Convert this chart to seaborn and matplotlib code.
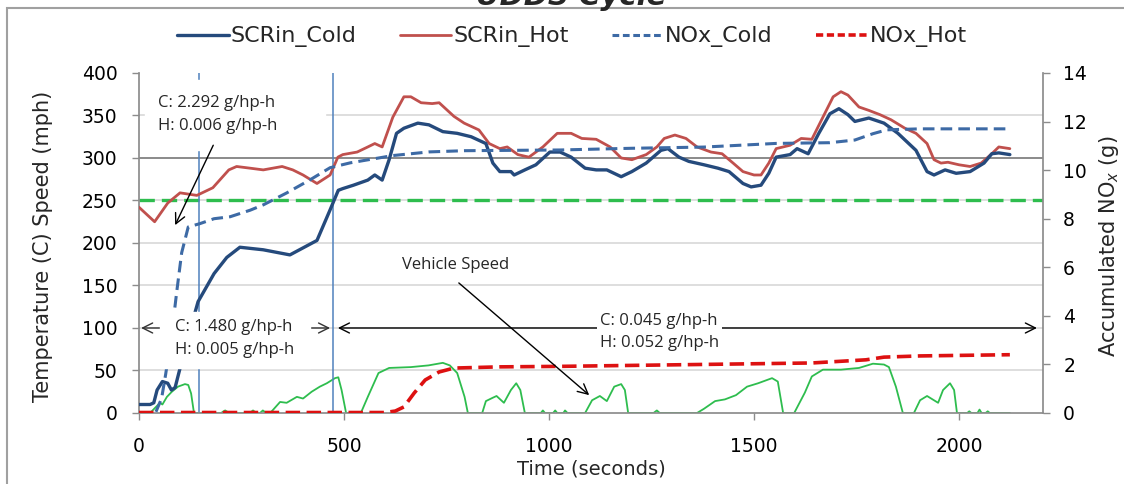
import seaborn as sns
import matplotlib.pyplot as plt
from matplotlib.lines import Line2D
from matplotlib.patches import Rectangle

# SCR inlet temperature (C), cold start
cold_t = [0, 27, 36, 44, 57, 70, 79, 88, 97, 120,
          144, 183, 214, 246, 303, 368, 434, 466, 486, 497,
          523, 558, 575, 593, 610, 628, 646, 680, 707, 741,
          776, 810, 846, 863, 880, 907, 915, 941, 968, 1002,
          1027, 1054, 1088, 1115, 1141, 1176, 1202, 1237, 1273, 1290,
          1317, 1341, 1378, 1412, 1439, 1473, 1493, 1517, 1536, 1554,
          1588, 1605, 1632, 1658, 1685, 1707, 1729, 1746, 1780, 1817,
          1851, 1895, 1922, 1939, 1966, 1993, 2027, 2061, 2080, 2097,
          2124]
cold_v = [10, 10, 12, 27, 37, 35, 27, 30, 47, 90,
          131, 164, 183, 195, 192, 186, 203, 239, 262, 264,
          268, 274, 280, 274, 298, 329, 335, 341, 339, 331,
          329, 325, 317, 294, 284, 284, 280, 286, 292, 307,
          307, 301, 288, 286, 286, 278, 284, 294, 309, 311,
          301, 296, 292, 288, 284, 270, 266, 268, 282, 301,
          304, 311, 305, 329, 352, 358, 351, 343, 347, 341,
          329, 309, 284, 280, 286, 282, 284, 294, 305, 306,
          304]

# SCR inlet temperature (C), hot start
hot_t = [0, 38, 70, 100, 141, 180, 219, 238, 271, 303,
         349, 375, 400, 434, 466, 485, 497, 532, 558, 575,
         593, 619, 646, 663, 688, 715, 732, 768, 793, 829,
         854, 880, 898, 924, 951, 985, 1020, 1054, 1080, 1115,
         1149, 1176, 1202, 1237, 1263, 1281, 1307, 1334, 1361, 1395,
         1422, 1449, 1473, 1500, 1517, 1536, 1554, 1588, 1615, 1641,
         1668, 1693, 1712, 1729, 1756, 1780, 1807, 1834, 1868, 1895,
         1922, 1939, 1956, 1973, 2000, 2027, 2054, 2080, 2097, 2124]
hot_v = [242, 225, 247, 259, 256, 265, 286, 290, 288, 286,
         290, 286, 280, 270, 280, 301, 304, 307, 313, 317,
         313, 348, 372, 372, 365, 364, 365, 349, 341, 333,
         317, 311, 313, 304, 301, 313, 329, 329, 323, 322,
         313, 300, 298, 304, 313, 323, 327, 323, 313, 307,
         305, 294, 284, 280, 280, 294, 311, 315, 323, 322,
         348, 372, 378, 374, 360, 356, 351, 345, 335, 329,
         317, 298, 294, 295, 292, 290, 294, 305, 313, 311]

# accumulated NOx (g)
nox_cold_t = [0, 40, 55, 65, 80, 92, 104, 120, 149, 183,
              222, 271, 303, 360, 417, 466, 515, 619, 707, 793,
              1027, 1202, 1378, 1554, 1685, 1746, 1790, 1824, 1905, 2124]
nox_cold_g = [0, 0, 0.6, 1.6, 3.3, 5.0, 6.6, 7.66, 7.8, 8.0,
              8.08, 8.35, 8.57, 9.06, 9.6, 10.1, 10.3, 10.6, 10.75, 10.8,
              10.83, 10.9, 10.95, 11.1, 11.13, 11.24, 11.5, 11.66, 11.7, 11.7]

nox_hot_t = [0, 600, 625, 646, 671, 698, 732, 768, 880, 1027,
             1378, 1641, 1773, 1817, 1905, 2124]
nox_hot_g = [0.02, 0.02, 0.08, 0.25, 0.82, 1.36, 1.69, 1.85, 1.9, 1.92,
             2.0, 2.06, 2.19, 2.3, 2.35, 2.4]

# vehicle speed (mph)
speed_t = [0, 27, 51, 57, 68, 80, 95, 112, 120, 127, 134,
           200, 210, 220, 270, 278, 286, 295, 302, 310, 320,
           344, 360, 385, 400, 421, 441, 458, 478, 486, 494, 505,
           541, 558, 584, 610, 663, 706, 741, 758, 776, 794, 802,
           837, 846, 863, 872, 890, 907, 920, 930, 941,
           980, 985, 990, 1010, 1015, 1020, 1035, 1039, 1045,
           1088, 1105, 1124, 1141, 1159, 1176, 1185, 1193,
           1255, 1263, 1270, 1361, 1378, 1405, 1429, 1456, 1483, 1510, 1544, 1558, 1571,
           1598, 1624, 1641, 1668, 1712, 1756, 1790, 1817, 1829, 1846, 1863,
           1890, 1905, 1922, 1949, 1961, 1978, 1988, 1995,
           2020, 2025, 2030, 2045, 2050, 2055, 2065, 2070, 2075, 2124]
speed_v = [0, 0, 12, 10, 19, 25, 31, 34, 33, 23, 0,
           0, 3, 0, 0, 3, 0, 0, 3, 0, 0,
           13, 12, 19, 17, 25, 31, 35, 41, 42, 27, 0,
           0, 19, 47, 53, 54, 56, 59, 56, 47, 19, 0,
           0, 14, 18, 20, 12, 27, 35, 27, 0,
           0, 3, 0, 0, 3, 0, 0, 3, 0,
           0, 15, 20, 14, 31, 34, 27, 0,
           0, 3, 0, 0, 5, 14, 16, 21, 31, 35, 41, 37, 0,
           0, 24, 43, 51, 51, 53, 58, 57, 54, 31, 0,
           0, 15, 20, 12, 27, 35, 27, 0,
           0, 2, 0, 0, 4, 0, 0, 2, 0, 0]

phase_bounds = [146, 473]
temp_target = 250

labels = ['SCRin_Cold', 'SCRin_Hot', 'NOx_Cold', 'NOx_Hot']
c_cold, c_hot = '#254a7c', '#c0504d'
c_nox_cold, c_nox_hot = '#3d6aa5', '#dd1111'
c_green = '#2ebd4e'
c_axis = '#8c8c8c'

sns.set_theme(style='white')
plt.rcParams['font.family'] = ['DejaVu Sans']
ann_font = ['Open Sans', 'DejaVu Sans']

fig = plt.figure(figsize=(11.24, 4.84), dpi=100)
ax = fig.add_axes([0.1237, 0.1467, 0.8043, 0.7025])
ax2 = ax.twinx()

# grid
for g in range(50, 400, 50):
    if g == 300:
        ax.axhline(g, color='#8a8a8a', lw=1.4, zorder=0)
    else:
        ax.axhline(g, color='#d4d4d4', lw=1.1, zorder=0)

sns.lineplot(x=speed_t, y=speed_v, ax=ax, color=c_green, lw=1.3, estimator=None, zorder=2)
ax.axhline(temp_target, color=c_green, lw=2.4, linestyle=(0, (4.6, 2.1)), zorder=2)
for b in phase_bounds:
    ax.axvline(b, color='#4f81bd', lw=1.1, zorder=2)
sns.lineplot(x=hot_t, y=hot_v, ax=ax, color=c_hot, lw=2.0, estimator=None, zorder=3)
sns.lineplot(x=cold_t, y=cold_v, ax=ax, color=c_cold, lw=2.4, estimator=None, zorder=3)

sns.lineplot(x=nox_cold_t, y=nox_cold_g, ax=ax2, color=c_nox_cold, lw=2.2,
             linestyle=(0, (3.8, 2.0)), estimator=None, zorder=2)
sns.lineplot(x=nox_hot_t, y=nox_hot_g, ax=ax2, color=c_nox_hot, lw=2.6,
             linestyle=(0, (4.0, 1.8)), estimator=None, zorder=2)

ax.set_xlim(0, 2205)
ax.set_ylim(0, 400)
ax2.set_ylim(0, 14)
ax.set_xticks(range(0, 2001, 500))
ax.set_yticks(range(0, 401, 50))
ax2.set_yticks(range(0, 15, 2))

for s in ['top', 'right']:
    ax.spines[s].set_visible(False)
for s in ['top', 'left', 'bottom']:
    ax2.spines[s].set_visible(False)
for s in ['left', 'bottom']:
    ax.spines[s].set_color(c_axis)
ax2.spines['right'].set_color(c_axis)

ax.tick_params(axis='x', bottom=True, direction='out', length=5, width=1, color=c_axis,
               labelsize=13.5, pad=12.5, labelcolor='black')
ax.tick_params(axis='y', left=True, direction='out', length=5, width=1, color=c_axis,
               labelsize=13.5, pad=10.5, labelcolor='black')
ax2.tick_params(axis='y', right=True, direction='out', length=5, width=1, color=c_axis,
                labelsize=13.5, pad=9.5, labelcolor='black')

ax.set_xlabel('Time (seconds)', fontsize=14)
ax.set_ylabel('Temperature (C) Speed (mph)', fontsize=15)
ax2.set_ylabel('Accumulated NO$_x$ (g)', fontsize=15)
ax.xaxis.set_label_coords(0.5, -0.136)
ax.yaxis.set_label_coords(-0.095, 0.49)
ax2.yaxis.set_label_coords(1.06, 0.49)

# annotations (drawn on the top axes, in temperature/time coordinates)
td = ax.transData
ax2.add_patch(Rectangle((15, 309), 439, 83, transform=td, color='white', zorder=5))
ax2.text(46, 351, 'C: 2.292 g/hp-h\nH: 0.006 g/hp-h', transform=td, ha='left', va='center',
         fontsize=12, linespacing=1.55, family=ann_font, zorder=6)
ax2.annotate('', xy=(88, 221), xytext=(181, 315), xycoords=td, textcoords=td,
             arrowprops=dict(arrowstyle='->,head_length=0.6,head_width=0.3', color='black',
                             lw=1, shrinkA=0, shrinkB=0), zorder=7)

ax2.annotate('', xy=(5, 100), xytext=(466, 100), xycoords=td, textcoords=td,
             arrowprops=dict(arrowstyle='<->,head_length=0.6,head_width=0.3', color='#333333',
                             lw=1, shrinkA=0, shrinkB=0), zorder=4)
ax2.add_patch(Rectangle((51, 53), 366, 66, transform=td, color='white', zorder=5))
ax2.text(232, 88, 'C: 1.480 g/hp-h\nH: 0.005 g/hp-h', transform=td, ha='center', va='center',
         fontsize=12, linespacing=1.6, family=ann_font, zorder=6)

ax2.annotate('', xy=(485, 100), xytext=(2190, 100), xycoords=td, textcoords=td,
             arrowprops=dict(arrowstyle='<->,head_length=0.6,head_width=0.3', color='black',
                             lw=1, shrinkA=0, shrinkB=0), zorder=4)
ax2.text(1124, 95, 'C: 0.045 g/hp-h\nH: 0.052 g/hp-h', transform=td, ha='left', va='center',
         fontsize=12, linespacing=1.5, family=ann_font, zorder=6,
         bbox=dict(facecolor='white', edgecolor='none', pad=2))

ax2.text(771, 174, 'Vehicle Speed', transform=td, ha='center', va='center',
         fontsize=12, family=ann_font, zorder=6)
ax2.annotate('', xy=(1098, 21), xytext=(780, 153), xycoords=td, textcoords=td,
             arrowprops=dict(arrowstyle='->,head_length=0.6,head_width=0.3', color='black',
                             lw=1, shrinkA=0, shrinkB=0), zorder=7)

handles = [Line2D([], [], color=c_cold, lw=2.4),
           Line2D([], [], color=c_hot, lw=2.0),
           Line2D([], [], color=c_nox_cold, lw=2.2, linestyle=(0, (2.2, 1.2))),
           Line2D([], [], color=c_nox_hot, lw=2.6, linestyle=(0, (2.0, 1.0)))]
fig.legend(handles, labels, loc='center', bbox_to_anchor=(0.509, 0.9236), ncol=4,
           frameon=False, fontsize=16, handlelength=2.3, handletextpad=0.1, columnspacing=1.95)

fig.text(0.508, 1 - 5 / 484, 'UDDS Cycle', ha='center', va='baseline',
         fontsize=21, fontweight='bold', fontstyle='italic')
fig.add_artist(Rectangle((7 / 1124, -0.05), 1.1, 1.05 - 8 / 484, transform=fig.transFigure,
                         fill=False, edgecolor='#a0a0a0', lw=1.5))

fig.savefig('out.png', dpi=100)
